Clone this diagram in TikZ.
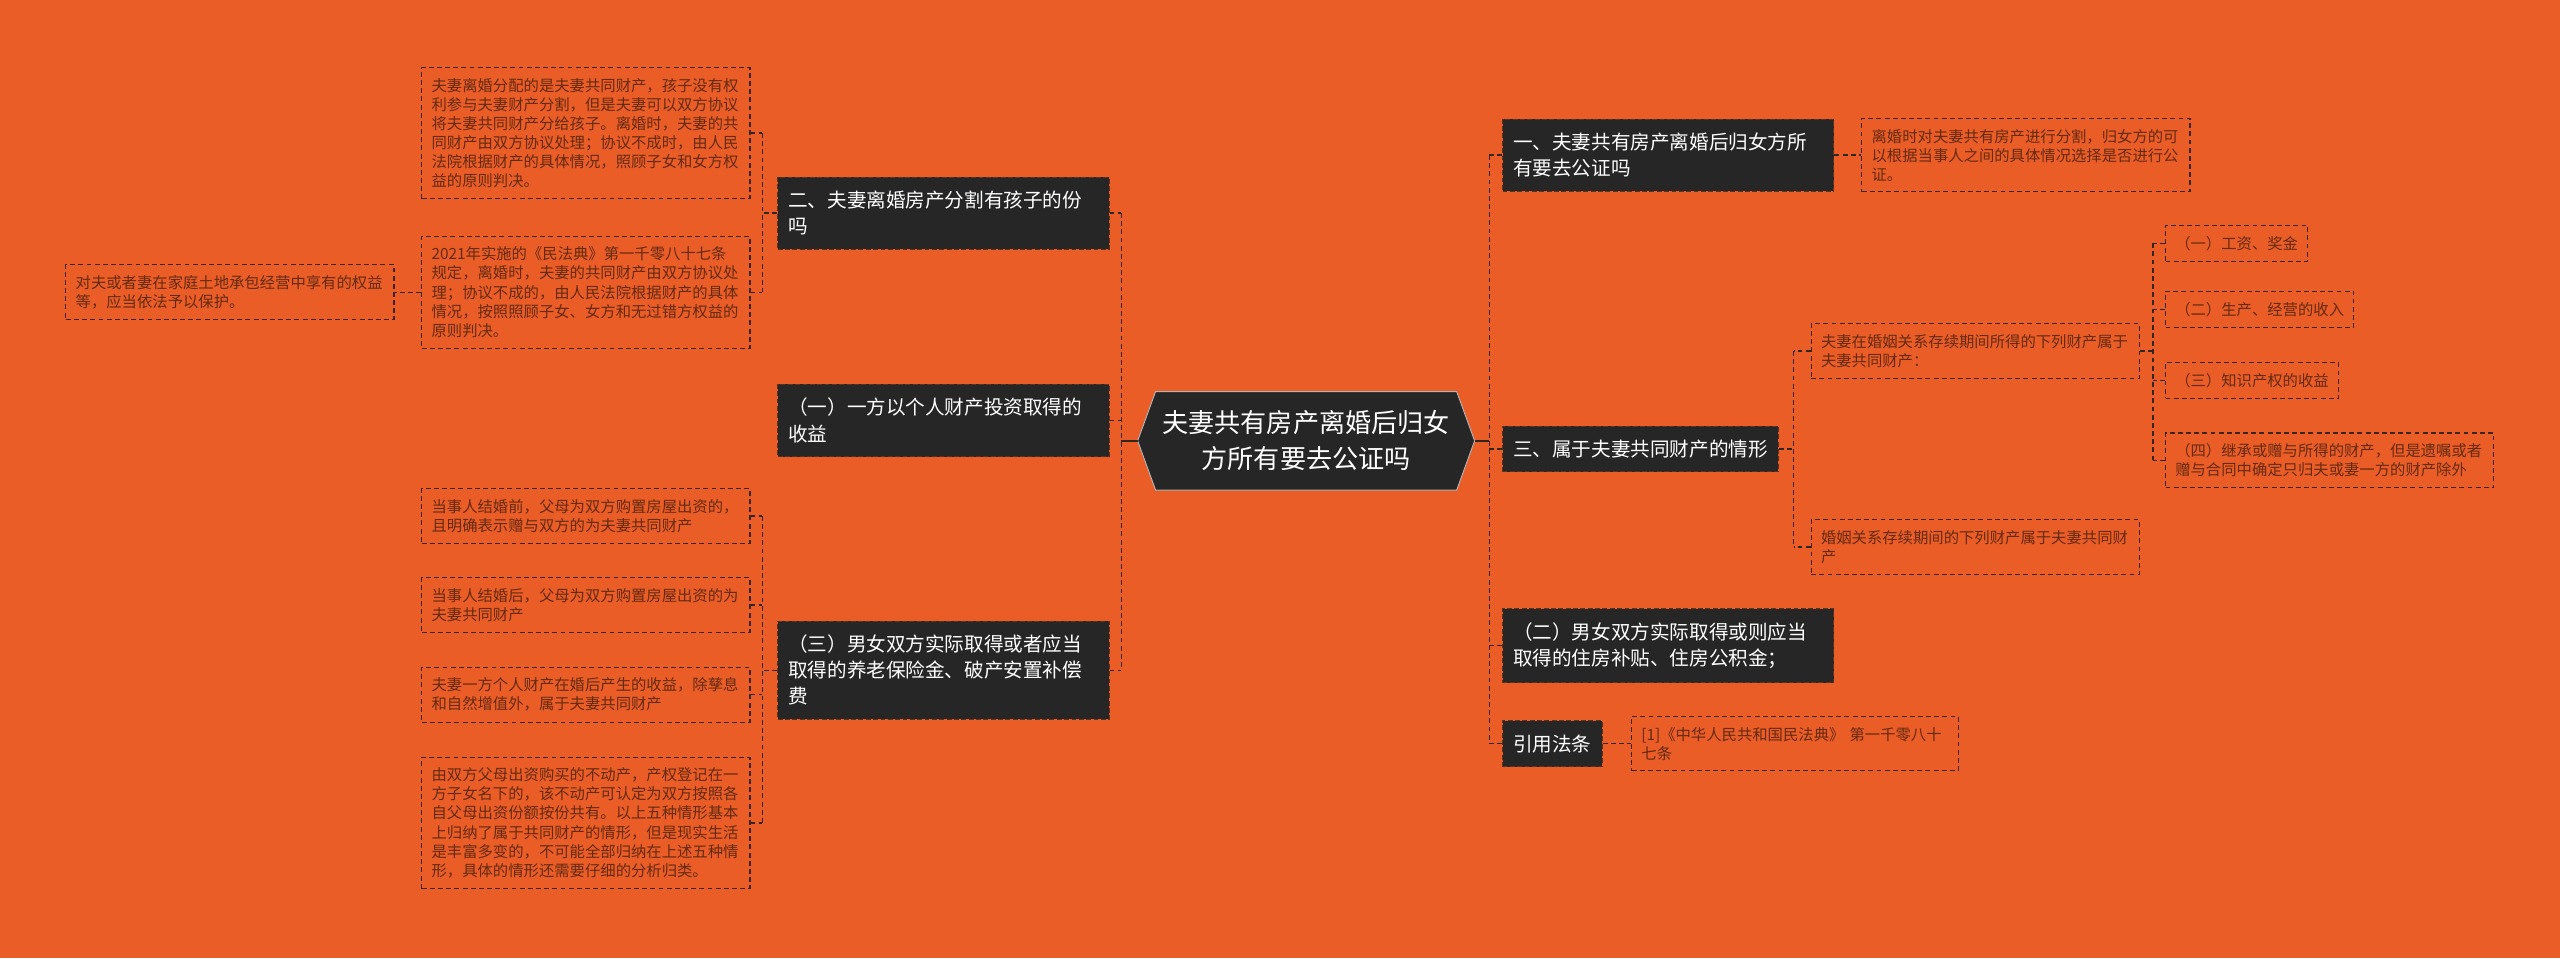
\documentclass[tikz,border=0pt]{standalone}
\usepackage{fontspec}
\setmainfont{Noto Sans CJK SC}
\usetikzlibrary{backgrounds}
\definecolor{bg}{RGB}{234,93,39}
\definecolor{darkbox}{RGB}{38,38,38}
\definecolor{mainedge}{RGB}{90,50,30}
\definecolor{leafedge}{RGB}{60,38,28}
\definecolor{leaftext}{RGB}{100,42,18}
\definecolor{connc}{RGB}{50,38,32}
\tikzset{
  mainbox/.style={draw=mainedge, dash pattern=on 3pt off 1.5pt, fill=darkbox, text=white,
    font=\fontsize{12}{16}\selectfont, align=left, inner xsep=6.5pt, inner ysep=8.5pt,
    anchor=west, line width=0.6pt},
  mainw/.style={mainbox, text width=190pt},
  leaf/.style={draw=leafedge, dash pattern=on 3pt off 2pt, text=leaftext,
    font=\fontsize{9.4}{11.7}\selectfont, align=left, inner xsep=6pt, inner ysep=6.5pt,
    anchor=west, line width=0.7pt},
  leafw/.style={leaf, text width=189pt},
  conn/.style={draw=connc, dash pattern=on 3pt off 2pt, line width=0.8pt},
  stub/.style={draw=connc, line width=1.2pt},
}
\begin{document}
\begin{tikzpicture}[x=1pt,y=-1pt]
\useasboundingbox (0,0) rectangle (1568,587);

% centre
\node[text=white, font=\fontsize{16}{22}\selectfont, align=center,
      minimum width=184pt, minimum height=60pt, inner sep=0pt] (c) at (800,270)
      {夫妻共有房产离婚后归女\\方所有要去公证吗};
\coordinate (cl) at ([xshift=-11pt]c.west);
\coordinate (cr) at ([xshift=11pt]c.east);
\begin{scope}[on background layer]
  \fill[bg] (0,0) rectangle (1568,587);
  \filldraw[fill=darkbox, draw=gray!60, line width=0.6pt]
    (c.north west) -- (c.north east) -- (cr) -- (c.south east) -- (c.south west) -- (cl) -- cycle;
\end{scope}

% left main boxes
\node[mainw] (L1) at (476,130.5) {二、夫妻离婚房产分割有孩子的份\\吗};
\node[mainw] (L2) at (476,257.5) {（一）一方以个人财产投资取得的\\收益};
\node[mainw] (L3) at (476,410.5) {（三）男女双方实际取得或者应当\\取得的养老保险金、破产安置补偿\\费};

% left leaves
\node[leafw] (A) at (258,81.5) {夫妻离婚分配的是夫妻共同财产，孩子没有权\\利参与夫妻财产分割，但是夫妻可以双方协议\\将夫妻共同财产分给孩子。离婚时，夫妻的共\\同财产由双方协议处理；协议不成时，由人民\\法院根据财产的具体情况，照顾子女和女方权\\益的原则判决。};
\node[leafw] (B) at (258,179) {2021年实施的《民法典》第一千零八十七条\\规定，离婚时，夫妻的共同财产由双方协议处\\理；协议不成的，由人民法院根据财产的具体\\情况，按照照顾子女、女方和无过错方权益的\\原则判决。};
\node[leafw] (C) at (40,179) {对夫或者妻在家庭土地承包经营中享有的权益\\等，应当依法予以保护。};
\node[leafw] (D) at (258,316) {当事人结婚前，父母为双方购置房屋出资的，\\且明确表示赠与双方的为夫妻共同财产};
\node[leafw] (E) at (258,370.5) {当事人结婚后，父母为双方购置房屋出资的为\\夫妻共同财产};
\node[leafw] (F) at (258,425.5) {夫妻一方个人财产在婚后产生的收益，除孳息\\和自然增值外，属于夫妻共同财产};
\node[leafw] (G) at (258,504) {由双方父母出资购买的不动产，产权登记在一\\方子女名下的，该不动产可认定为双方按照各\\自父母出资份额按份共有。以上五种情形基本\\上归纳了属于共同财产的情形，但是现实生活\\是丰富多变的，不可能全部归纳在上述五种情\\形，具体的情形还需要仔细的分析归类。};

% right main boxes
\node[mainw] (R1) at (920,95) {一、夫妻共有房产离婚后归女方所\\有要去公证吗};
\node[mainbox] (R3) at (920,275) {三、属于夫妻共同财产的情形};
\node[mainw] (R2) at (920,395.5) {（二）男女双方实际取得或则应当\\取得的住房补贴、住房公积金；};
\node[mainbox] (R4) at (920,455.5) {引用法条};

% right leaves
\node[leafw] (R1a) at (1140,95) {离婚时对夫妻共有房产进行分割，归女方的可\\以根据当事人之间的具体情况选择是否进行公\\证。};
\node[leafw] (H) at (1109,215) {夫妻在婚姻关系存续期间所得的下列财产属于\\夫妻共同财产：};
\node[leafw] (I) at (1109,335) {婚姻关系存续期间的下列财产属于夫妻共同财\\产};
\node[leaf] (K1) at (1326,149) {（一）工资、奖金};
\node[leaf] (K2) at (1326,189.5) {（二）生产、经营的收入};
\node[leaf] (K3) at (1326,233) {（三）知识产权的收益};
\node[leafw] (K4) at (1326,282) {（四）继承或赠与所得的财产，但是遗嘱或者\\赠与合同中确定只归夫或妻一方的财产除外};
\node[leaf, text width=188pt] (R4a) at (999,455.5) {[1]《中华人民共和国民法典》 第一千零八十\\七条};

% connectors: centre to left
\draw[stub] (cl) -- ++(-10,0) coordinate (sL);
\draw[conn] (sL |- L1.east) -- (sL |- L3.east);
\foreach \n in {L1,L2,L3} \draw[conn] (\n.east) -- (\n.east -| sL);

% L1 leaves
\coordinate (s1) at ([xshift=-9pt]L1.west);
\draw[conn] (L1.west) -- (s1);
\draw[conn] (s1 |- A.east) -- (s1 |- B.east);
\foreach \n in {A,B} \draw[conn] (\n.east) -- (\n.east -| s1);
\draw[conn] (B.west) -- (C.east);

% L3 leaves
\coordinate (s3) at ([xshift=-9pt]L3.west);
\draw[conn] (L3.west) -- (s3);
\draw[conn] (s3 |- D.east) -- (s3 |- G.east);
\foreach \n in {D,E,F,G} \draw[conn] (\n.east) -- (\n.east -| s3);

% centre to right
\draw[stub] (cr) -- ++(9,0) coordinate (sR);
\draw[conn] (sR |- R1.west) -- (sR |- R4.west);
\foreach \n in {R1,R3,R2,R4} \draw[conn] (\n.west) -- (\n.west -| sR);

\draw[conn] (R1.east) -- (R1a.west);
\draw[conn] (R4.east) -- (R4a.west);

\coordinate (sR3) at ([xshift=9pt]R3.east);
\draw[conn] (R3.east) -- (sR3);
\draw[conn] (sR3 |- H.west) -- (sR3 |- I.west);
\foreach \n in {H,I} \draw[conn] (\n.west) -- (\n.west -| sR3);

\coordinate (sH) at ([xshift=8pt]H.east);
\draw[conn] (H.east) -- (sH);
\draw[conn] (sH |- K1.west) -- (sH |- K4.west);
\foreach \n in {K1,K2,K3,K4} \draw[conn] (\n.west) -- (\n.west -| sH);
\end{tikzpicture}
\end{document}
